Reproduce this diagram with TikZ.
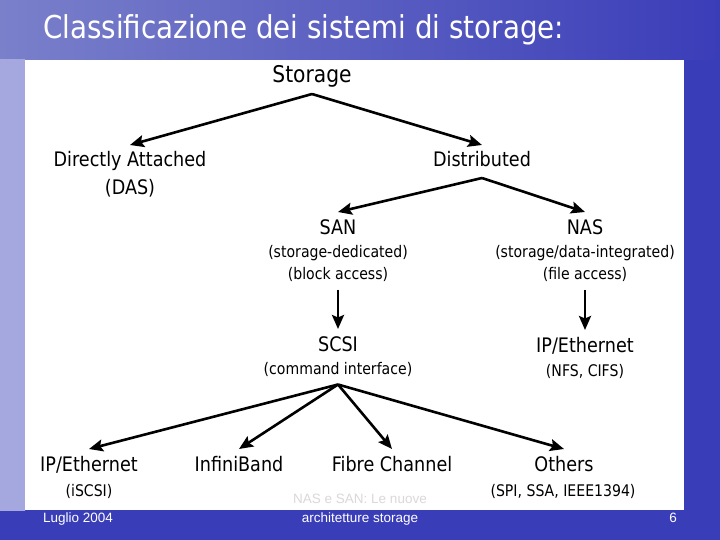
\documentclass[tikz,border=0pt]{standalone}
\usepackage{fontspec}
\setmainfont{DejaVu Sans}[FakeStretch=0.88]
\newfontfamily\footfont{Liberation Sans}
\usetikzlibrary{arrows.meta,positioning}
\definecolor{slDeep}{HTML}{3A3DB8}
\definecolor{slCloud}{HTML}{7A80CA}
\definecolor{slMist}{HTML}{A4A8DE}
\definecolor{slPale}{HTML}{DCDDF4}
\tikzset{
  lbl/.style={inner sep=2pt, outer ysep=5pt, anchor=base, text height=15pt, text depth=4pt, font=\fontsize{20}{22}\selectfont},
  sub/.style={lbl, text height=12pt, text depth=3.5pt, font=\fontsize{16}{18}\selectfont},
  arr/.style={-{Stealth[length=14pt,width=12pt,inset=2.5pt]}, line width=2.6pt, draw=black},
  foot/.style={anchor=base, inner sep=0pt, text=white, font=\footfont\fontsize{13.5}{15}\selectfont},
}
\begin{document}
\begin{tikzpicture}[x=1pt, y=-1pt]
  \useasboundingbox (0,0) rectangle (720,540);
  % slide background
  \fill[slDeep] (0,0) rectangle (720,540);
  \shade[left color=slCloud, right color=slDeep] (0,0) rectangle (720,60);
  \shade[top color=slMist, middle color=slPale, bottom color=slMist] (0,60) rectangle (25,510);
  \fill[white] (25,60) rectangle (684,510);
  \node[anchor=base west, inner sep=0pt, text=white, font=\fontsize{31.5}{34}\selectfont] (title) at (43,39) {Classificazione dei sistemi di storage:};
  % tree
  \node[lbl, font=\fontsize{23}{25}\selectfont] (sto) at (312,83) {Storage};
  \node[lbl] (das) at (130,167) {Directly Attached};
  \node[lbl] (dasb) at (130,195) {(DAS)};
  \node[lbl] (dist) at (482,167) {Distributed};
  \node[lbl] (san) at (338,234) {SAN};
  \node[sub] (sanA) at (338,258) {(storage-dedicated)};
  \node[sub] (sanB) at (338,279) {(block access)};
  \node[lbl] (nas) at (585,234) {NAS};
  \node[sub] (nasA) at (585,258) {(storage/data-integrated)};
  \node[sub] (nasB) at (585,279) {(file access)};
  \node[lbl] (scsi) at (338,351) {SCSI};
  \node[sub] (cmd) at (338,374) {(command interface)};
  \node[lbl] (ipn) at (585,352) {IP/Ethernet};
  \node[sub] (nfs) at (585,376) {(NFS, CIFS)};
  \node[lbl] (ip) at (89,471) {IP/Ethernet};
  \node[sub] (iscsi) at (89,496) {(iSCSI)};
  \node[lbl] (ib) at (239,471) {InfiniBand};
  \node[lbl] (fc) at (392,471) {Fibre Channel};
  \node[lbl] (oth) at (564,471) {Others};
  \node[sub] (spi) at (563,496) {(SPI, SSA, IEEE1394)};
  \draw[arr] (sto.south) -- (das.north);
  \draw[arr] (sto.south) -- (dist.north);
  \draw[arr] (dist.south) -- (san.north);
  \draw[arr] (dist.south) -- (nas.north);
  \draw[arr] (sanB.south) -- (scsi.north);
  \draw[arr] (nasB.south) -- (ipn.north);
  \draw[arr] (cmd.south) -- (ip.north);
  \draw[arr] (cmd.south) -- (ib.north);
  \draw[arr] (cmd.south) -- (fc.north);
  \draw[arr] (cmd.south) -- (oth.north);
  % footer
  \node[foot, text=gray!30] (topicA) at (360,503) {NAS e SAN: Le nuove};
  \node[foot, anchor=base west] (date) at (43,522) {Luglio 2004};
  \node[foot] (topic) at (360,522) {architetture storage};
  \node[foot] (page) at (673,522) {6};
\end{tikzpicture}
\end{document}
